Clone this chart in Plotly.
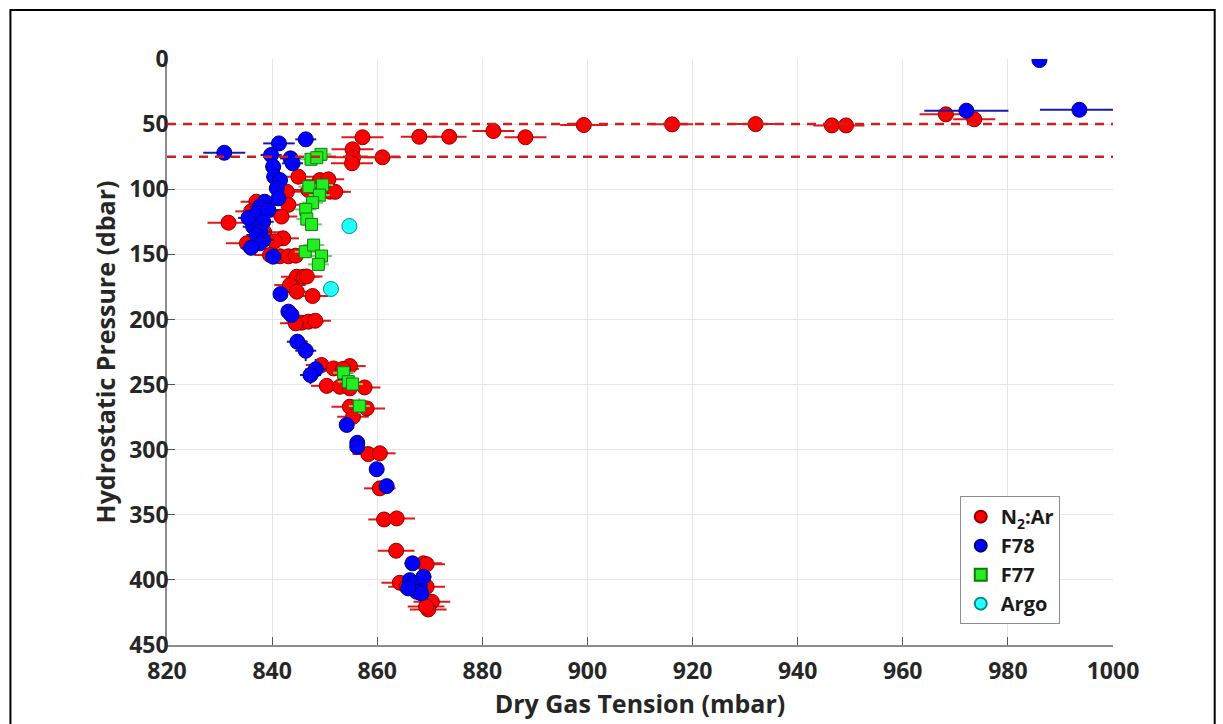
import plotly.graph_objects as go

# ---------------- data ----------------
# N2:Ar  (x = dry gas tension mbar, y = hydrostatic pressure dbar, xerr)
n2ar_x = [968.2, 973.6, 899.3, 916.1, 932.0, 946.5, 949.2, 882.1, 868.0, 873.7, 888.2,
          857.2, 855.3, 855.4, 855.2, 861.0,
          845.0, 849.1, 850.7, 846.9, 851.0, 852.0, 842.8, 843.1, 841.8, 831.7, 837.0,
          836.0, 838.5,
          835.2, 842.1, 840.5, 839.6, 841.5, 843.1, 844.5, 844.7, 846.0, 846.6, 843.4,
          844.7, 847.7, 845.6, 846.9, 848.2, 844.5, 849.4, 851.7, 854.8, 853.5, 850.4,
          852.9, 854.8, 857.6, 854.8, 858.0, 855.4,
          858.3, 860.5, 860.5, 861.3, 863.7, 863.6, 868.8, 869.4, 864.3, 865.6, 869.4,
          870.4, 869.7, 869.3]
n2ar_y = [42.5, 46.3, 50.7, 50.2, 50.0, 51.0, 51.0, 55.3, 59.7, 59.7, 60.1,
          60.1, 69.4, 75.5, 80.1, 75.5,
          90.4, 93.0, 92.4, 100.6, 101.9, 102.0, 101.9, 112.0, 121.0, 125.7, 109.6,
          117.0, 133.0,
          141.5, 137.7, 140.0, 150.5, 151.5, 151.5, 151.0, 167.2, 167.2, 167.0, 173.6,
          178.7, 182.0, 202.5, 201.7, 201.0, 203.0, 235.0, 237.6, 235.8, 238.0, 251.0,
          251.7, 252.9, 252.2, 267.0, 268.3, 274.7,
          303.4, 302.8, 329.7, 353.6, 352.8, 377.6, 387.3, 388.0, 402.2, 405.3, 405.3,
          416.8, 422.7, 420.5]
n2ar_xerr = [5.0, 4.0, 4.5, 4.0, 4.0, 3.5, 3.5, 4.0, 3.5, 3.3, 4.0,
             4.0, 4.0, 4.0, 4.0, 3.5,
             3.0, 3.0, 3.0, 3.0, 3.0, 3.0, 3.0, 3.0, 3.0, 4.0, 3.0,
             3.0, 3.0,
             4.0, 3.0, 3.0, 3.0, 3.0, 3.0, 3.0, 3.0, 3.0, 3.0, 3.0,
             3.0, 3.0, 3.0, 3.0, 3.0, 3.0, 3.0, 3.0, 3.0, 3.0, 3.0,
             3.0, 3.0, 3.0, 3.5, 3.5, 3.0,
             3.0, 3.0, 3.0, 3.0, 3.5, 3.5, 3.5, 3.5, 3.5, 3.5, 3.5,
             3.5, 3.5, 3.5]

# F78
f78_x = [986.0, 972.1, 993.6, 830.9, 841.3, 846.4, 839.8, 843.5, 843.9, 840.2, 840.4,
         841.5, 840.9, 841.2, 838.6, 837.7, 837.1, 839.3, 838.3, 836.4, 837.7, 835.5,
         837.1, 838.3, 837.7, 836.0, 840.2, 841.6, 843.1, 843.7, 844.8, 846.4, 848.3,
         847.3, 854.2, 856.2, 856.2, 859.9, 861.8, 866.7, 866.2, 866.9, 868.1, 868.8,
         867.5, 868.4, 865.9]
f78_y = [0.8, 39.7, 39.0, 72.0, 64.8, 61.7, 73.7, 76.3, 80.1, 82.7, 90.4,
         93.0, 99.3, 107.0, 109.6, 113.4, 118.5, 116.0, 125.0, 128.8, 132.6, 122.0,
         135.2, 139.0, 141.5, 145.0, 151.8, 180.5, 194.0, 196.6, 217.1, 224.0, 238.3,
         242.7, 281.0, 294.7, 297.8, 315.0, 328.0, 387.3, 400.2, 402.7, 405.3, 397.6,
         409.1, 410.4, 406.5]
f78_xerr = [0.0, 8.0, 7.5, 4.0, 3.0, 2.0, 2.0, 2.0, 2.0, 1.5, 1.5,
            1.5, 1.5, 1.5, 2.0, 2.0, 2.0, 2.0, 2.0, 2.0, 2.0, 2.0,
            2.0, 2.0, 2.0, 2.0, 1.5, 1.0, 1.0, 1.0, 2.0, 2.0, 2.0,
            2.0, 1.0, 1.0, 1.0, 1.0, 1.0, 1.5, 1.5, 1.5, 1.5, 1.5,
            1.5, 1.5, 1.5]
f78_yerr = [0.0, 0.0, 0.0, 0.0, 0.0, 0.0, 0.0, 0.0, 0.0, 0.0, 0.0,
            0.0, 0.0, 0.0, 0.0, 0.0, 0.0, 0.0, 0.0, 0.0, 0.0, 0.0,
            0.0, 0.0, 0.0, 0.0, 0.0, 0.0, 0.0, 0.0, 6.0, 8.0, 8.0,
            7.0, 0.0, 0.0, 0.0, 0.0, 0.0, 0.0, 0.0, 0.0, 0.0, 0.0,
            0.0, 0.0, 0.0]

# F77
f77_x = [847.4, 849.3, 848.5, 847.0, 849.6, 849.0, 847.7, 846.4, 846.6, 847.5,
         846.3, 847.9, 849.4, 848.8, 853.6, 854.5, 855.3, 856.6]
f77_y = [77.0, 73.2, 75.8, 98.0, 96.8, 104.5, 110.3, 115.5, 122.9, 127.0,
         148.0, 142.9, 151.3, 157.7, 240.9, 247.8, 249.6, 266.5]
f77_xerr = [2.0] * 18
f77_yerr = [2.0, 2.0, 2.0, 2.0, 2.0, 2.0, 2.0, 2.0, 2.0, 2.0,
            2.0, 2.0, 2.0, 2.0, 3.0, 3.0, 3.0, 6.0]

# Argo
argo_x = [854.7, 851.2]
argo_y = [128.3, 176.6]

# reference depths (dashed lines)
ref_depths = [50, 75]

x_ticks = [820, 840, 860, 880, 900, 920, 940, 960, 980, 1000]
y_ticks = [0, 50, 100, 150, 200, 250, 300, 350, 400, 450]

# ---------------- figure ----------------
FONT = "Open Sans"
fig = go.Figure()

fig.add_trace(go.Scatter(
    x=n2ar_x, y=n2ar_y, mode="markers", name="N<sub>2</sub>:Ar",
    marker=dict(symbol="circle", size=15, color="#ff0000",
                line=dict(color="#8a0000", width=1)),
    error_x=dict(type="data", array=n2ar_xerr, color="#e01818", thickness=2, width=0),
))
fig.add_trace(go.Scatter(
    x=f78_x, y=f78_y, mode="markers", name="F78",
    marker=dict(symbol="circle", size=15, color="#0000ff",
                line=dict(color="#00007a", width=1)),
    error_x=dict(type="data", array=f78_xerr, color="#1a1aa8", thickness=2, width=0),
    error_y=dict(type="data", array=f78_yerr, color="#1a1aa8", thickness=2, width=0),
))
fig.add_trace(go.Scatter(
    x=f77_x, y=f77_y, mode="markers", name="F77",
    marker=dict(symbol="square", size=12, color="#22ee22",
                line=dict(color="#107a10", width=1)),
    error_x=dict(type="data", array=f77_xerr, color="#55dd55", thickness=2, width=0),
    error_y=dict(type="data", array=f77_yerr, color="#55dd55", thickness=2, width=0),
))
fig.add_trace(go.Scatter(
    x=argo_x, y=argo_y, mode="markers", name="Argo",
    marker=dict(symbol="circle", size=15, color="#22ffff",
                line=dict(color="#0a8a8a", width=1)),
))

for d in ref_depths:
    fig.add_shape(type="line", xref="paper", yref="y", x0=0, x1=1, y0=d, y1=d,
                  line=dict(color="#cc2020", width=2.5, dash="9px,7px"), layer="above")

# outer black frame
fig.add_shape(type="rect", xref="paper", yref="paper",
              x0=-0.1655, x1=1.1075, y0=1.0836, y1=-0.2,
              line=dict(color="black", width=2), fillcolor="rgba(0,0,0,0)")

fig.update_layout(
    width=1223, height=724,
    margin=dict(l=167, r=110, t=59, b=79),
    paper_bgcolor="white", plot_bgcolor="white",
    font=dict(family=FONT, color="#262626"),
    showlegend=True,
    legend=dict(x=0.838, y=0.254, xanchor="left", yanchor="top",
                bgcolor="white", bordercolor="#8c8c8c", borderwidth=1,
                font=dict(family=FONT, size=20, color="#1a1a1a", weight="bold"),
                itemsizing="constant", tracegroupgap=0),
    xaxis=dict(
        range=[820, 1000], tickvals=x_ticks, ticktext=[str(v) for v in x_ticks],
        showgrid=True, gridcolor="#e6e6e6", gridwidth=1, zeroline=False,
        showline=True, linecolor="#8c8c8c", linewidth=1.5,
        ticks="inside", ticklen=8, tickcolor="#555555", tickwidth=1,
        ticklabelstandoff=5,
        tickfont=dict(family=FONT, size=23, color="#262626", weight="bold"),
        title=dict(text="Dry Gas Tension (mbar)", standoff=0,
                   font=dict(family=FONT, size=25, color="#262626", weight="bold")),
    ),
    yaxis=dict(
        range=[450, 0], tickvals=y_ticks, ticktext=[str(v) for v in y_ticks],
        showgrid=True, gridcolor="#e6e6e6", gridwidth=1, zeroline=False,
        showline=True, linecolor="#8c8c8c", linewidth=1.5,
        ticks="inside", ticklen=8, tickcolor="#555555", tickwidth=1,
        ticklabelstandoff=-8,
        tickfont=dict(family=FONT, size=23, color="#262626", weight="bold"),
        title=dict(text="Hydrostatic Pressure (dbar)", standoff=6,
                   font=dict(family=FONT, size=25, color="#262626", weight="bold")),
    ),
)

fig.write_html("out.html")
